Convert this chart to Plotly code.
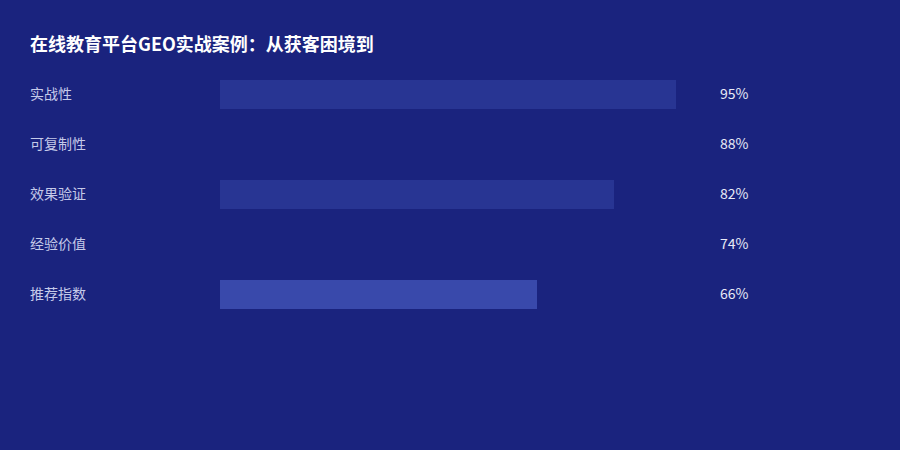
import plotly.graph_objects as go

categories = ["实战性", "可复制性", "效果验证", "经验价值", "推荐指数"]
values = [95, 88, 82, 74, 66]
bar_colors = ["#283593", "#1a237e", "#283593", "#1a237e", "#3949ab"]
title_text = "在线教育平台GEO实战案例：从获客困境到"

W, H = 900, 450
FONT = "Noto Sans CJK SC, Noto Sans, sans-serif"

fig = go.Figure()
fig.add_trace(go.Bar(
    x=values, y=categories, orientation="h",
    marker=dict(color=bar_colors, line=dict(width=0)),
    width=0.58, hoverinfo="skip", showlegend=False,
))

# row labels on the left, value labels on the right
for cat, v in zip(categories, values):
    fig.add_annotation(x=28 / W, xref="paper", y=cat, yref="y", text=cat,
                       showarrow=False, xanchor="left", yanchor="middle", yshift=1,
                       font=dict(family=FONT, size=14, color="#c5cae9"))
    fig.add_annotation(x=718 / W, xref="paper", y=cat, yref="y", text=f"{v}%",
                       showarrow=False, xanchor="left", yanchor="middle", yshift=1,
                       font=dict(family=FONT, size=14, color="#e8eaf6"))

fig.update_layout(
    width=W, height=H,
    paper_bgcolor="#1a237e", plot_bgcolor="#1a237e",
    margin=dict(l=0, r=0, t=0, b=0),
    title=dict(text=f"<b>{title_text}</b>", x=30 / W, xanchor="left",
               y=1 - 45 / H, yanchor="middle",
               font=dict(family=FONT, size=18, color="#ffffff")),
    xaxis=dict(domain=[220 / W, 700 / W], range=[0, 100], visible=False, fixedrange=True),
    yaxis=dict(type="category", categoryorder="array", categoryarray=categories,
               range=[(H - 94) / 50, -94 / 50], visible=False, fixedrange=True),
    bargap=0,
)

fig.write_html(
    "out.html",
    config={"displayModeBar": False},
    post_script="document.body.style.margin='0';document.body.style.overflow='hidden';",
)
